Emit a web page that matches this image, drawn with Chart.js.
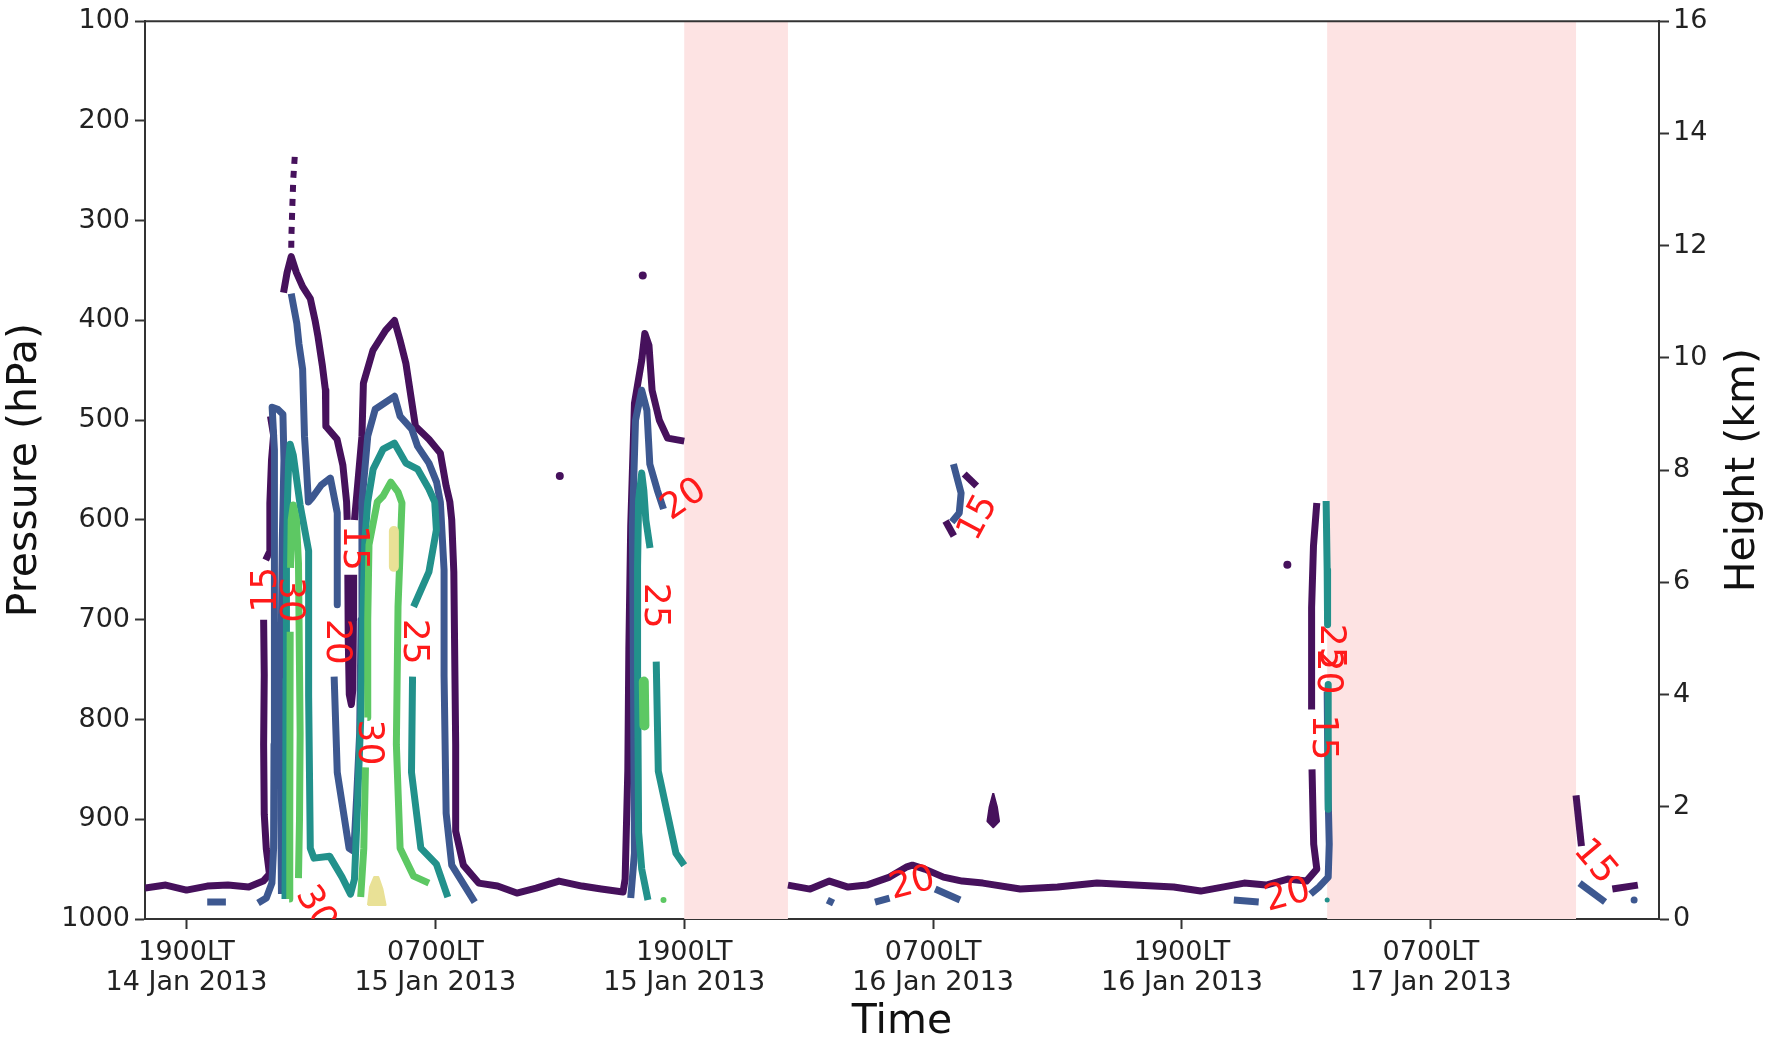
<!DOCTYPE html>
<html>
<head>
<meta charset="utf-8">
<script src="https://cdn.jsdelivr.net/npm/chart.js@4.4.1/dist/chart.umd.min.js"></script>
<style>
  html, body { margin: 0; padding: 0; background: #fff; }
  #wrap { width: 1772px; height: 1045px; position: relative; }
</style>
</head>
<body>
<div id="wrap"><canvas id="chart"></canvas></div>
<script>
// x = hours after 1900LT 14 Jan 2013, y = pressure (hPa)
const tickHours = [0, 12, 24, 36, 48, 60];
const tickTimes = ['1900LT', '0700LT', '1900LT', '0700LT', '1900LT', '0700LT'];
const tickDates = ['14 Jan 2013', '15 Jan 2013', '15 Jan 2013', '16 Jan 2013', '16 Jan 2013', '17 Jan 2013'];

// shaded periods (no data)
const missingSpans = [[24, 29], [55, 67]];

// ---- 15 contour
const p15West = [[-2,969],[-1,966],[0,971],[1,967],[2,966],[3,968],[3.7,962],[4.0,955],[3.85,930],[3.75,895],[3.72,825],[3.75,755],[3.72,700]];
const p15WestUpper = [[3.82,640],[3.98,633],[4.02,583],[4.1,540],[4.2,515],[4.05,496]];
const p15SpikeDots = [[5.22,236],[5.15,258],[5.1,288],[5.06,315],[5.05,330]];
const p15Spike = [[4.68,372],[4.85,352],[5.05,336],[5.3,352],[5.6,366],[5.97,378],[6.2,400],[6.34,416],[6.55,445],[6.7,470],[6.72,506],[7.26,519],[7.54,545],[7.72,582],[7.75,600]];
const p15Valley = [[7.78,655],[7.8,720],[7.85,775],[7.95,785],[8.02,770],[8.05,700],[8.06,655]];
const p15Middle = [[8.1,600],[8.18,582],[8.46,516],[8.53,463],[8.99,430],[9.6,410],[10.03,400],[10.3,420],[10.58,443],[11.04,506],[11.69,519],[12.24,533],[12.52,566],[12.7,582],[12.79,600],[12.89,652],[12.98,825],[12.98,912],[13.35,946],[14.09,964],[15.0,967],[15.93,974],[16.86,969],[17.96,962],[19.07,967],[20.0,970],[21.05,973],[21.15,960],[21.28,851],[21.33,729],[21.42,606],[21.6,483],[21.95,440],[22.1,413],[22.3,425],[22.45,470],[22.8,500],[23.2,518],[24.0,521]];
const p15East = [[29.0,966],[30.07,970],[31.0,962],[31.9,968],[32.8,966],[33.9,958],[34.7,948],[35.0,946],[35.6,950],[36.5,958],[37.4,962],[38.4,964],[40.2,970],[42.0,968],[43.9,964],[45.7,966],[47.6,968],[48.9,972],[49.95,968],[51.0,964],[52.06,966],[53.1,960],[54.0,962],[54.5,950],[54.35,925],[54.27,850]];
const p15EastUpper = [[54.25,790],[54.25,688],[54.34,626],[54.5,583]];
const p15HookA = [[37.5,554],[38.1,566]];
const p15HookB = [[36.6,601],[37.0,616]];
const p15FarA = [[67.0,876],[67.26,927]];
const p15FarB = [[68.75,970],[69.98,966]];
const p15Dots = [[18.0,556],[22.0,355],[53.08,645]];
const p15Drop = [[38.9,874],[39.08,888],[39.18,902],[38.9,908],[38.62,902],[38.72,888],[38.9,874]];

// ---- 20 contour
const b20DashWest = [[1.0,983],[1.9,983]];
const b20WestTower = [[3.45,984],[3.85,979],[4.12,964],[4.2,929],[4.22,825],[4.25,690],[4.22,583],[4.25,530],[4.13,487],[4.4,489],[4.65,494],[4.7,540],[4.62,620],[4.55,760],[4.55,900],[4.58,975]];
const b20Spike = [[5.05,373],[5.32,403],[5.42,423],[5.6,449],[5.69,516],[5.79,549],[5.88,582],[6.05,578],[6.5,565],[6.94,558],[7.27,593],[7.27,685]];
const b20Middle = [[7.12,757],[7.27,853],[7.84,929],[8.07,932],[8.2,880],[8.35,814],[8.42,700],[8.46,582],[8.74,516],[9.1,489],[10.03,476],[10.3,496],[10.86,509],[11.14,526],[11.69,543],[12.06,562],[12.24,582],[12.42,650],[12.42,756],[12.52,894],[12.79,946],[13.9,983]];
const b20Third = [[21.42,979],[21.6,934],[21.55,750],[21.5,606],[21.65,500],[21.95,470],[22.2,490],[22.34,544],[22.7,570],[23.0,589]];
const b20Dash31 = [[30.9,981],[31.2,984]];
const b20DipA = [[33.2,983],[33.9,979]];
const b20DipB = [[36.1,970],[37.3,981]];
const b20Hook = [[36.98,544],[37.35,573],[37.26,593],[36.9,602]];
const b20Dash51 = [[50.5,981],[51.7,983]];
const b20Fourth = [[54.2,975],[54.6,968],[55.05,958],[55.1,925],[55.05,880],[55.0,772]];
const b20Far = [[67.17,964],[68.4,983]];
const b20Dots = [[69.8,981]];

// ---- 25 contour
const t25West = [[4.75,980],[4.78,900],[4.8,760],[4.82,650],[4.87,580],[4.93,540],[5.0,524],[5.15,535],[5.48,585],[5.89,631],[5.89,776],[5.97,929],[6.15,939],[6.9,937],[7.5,958],[7.91,975],[8.1,960],[8.22,900],[8.4,800],[8.5,700],[8.6,620],[8.74,582],[9.0,549],[9.48,529],[10.03,523],[10.58,543],[11.14,549],[11.69,569],[11.97,582],[12.05,610],[11.69,652],[10.95,687]];
const t25MiddleRight = [[10.9,757],[10.85,853],[11.3,929],[12.05,945],[12.6,978]];
const t25Third = [[22.25,981],[21.95,950],[21.8,913],[21.75,750],[21.75,647],[21.8,580],[21.95,553],[22.05,570],[22.15,600],[22.35,628]];
const t25ThirdLower = [[22.65,742],[22.75,852],[23.6,934],[24.0,946]];
const t25Fourth = [[54.95,581],[55.0,650],[55.02,705]];
const t25FourthLower = [[55.05,765],[55.05,890]];
const t25Dots = [[55.0,981]];

// ---- 30 contour
const g30West = [[4.95,980],[4.98,900],[5.0,712]];
const g30WestUpper = [[5.02,648],[5.05,600],[5.15,585],[5.3,600],[5.4,643],[5.48,814],[5.45,900],[5.4,959]];
const g30Middle = [[8.4,978],[8.55,929],[8.63,848]];
const g30MiddleUpper = [[8.72,798],[8.74,700],[8.8,625],[9.2,582],[9.48,576],[9.85,562],[10.2,572],[10.39,583],[10.2,687],[10.12,825],[10.3,929],[10.95,957],[11.69,964]];
const g30Blob = [[22.05,762],[22.08,806]];
const g30Dots = [[23.0,981]];

// ---- 35 contour
const y35Core = [[10.0,611],[10.0,647]];
const y35Base = [[8.75,986],[8.85,968],[9.05,958],[9.25,958],[9.45,970],[9.6,986],[8.75,986]];

// inline contour labels: text, hour, hPa, angle
const contourLabels = [
  ['15', 3.88, 670, -90],
  ['30', 4.95, 680, 90],
  ['15', 8.07, 628, 90],
  ['20', 7.25, 722, 90],
  ['30', 8.75, 823, 90],
  ['25', 10.95, 722, 90],
  ['30', 6.2, 990, 60],
  ['20', 24.0, 580, -35],
  ['25', 22.55, 686, 90],
  ['15', 38.2, 598, -62],
  ['20', 35.0, 965, -15],
  ['20', 53.1, 977, -15],
  ['25', 55.15, 727, 90],
  ['20', 55.0, 752, 90],
  ['15', 54.75, 818, 90],
  ['15', 67.9, 943, 50]
];

const levelColors = { 15: '#46115c', 20: '#3d5890', 25: '#22918b', 30: '#5dc863', 35: '#e9e196' };

function toXY(pts) {
  return pts.map(([x, y]) => ({ x, y }));
}

function line(pts, level, extra) {
  return Object.assign({
    data: toXY(pts),
    showLine: true,
    borderColor: levelColors[level],
    backgroundColor: levelColors[level],
    borderWidth: 7,
    pointRadius: 0,
    tension: 0,
    borderJoinStyle: 'round',
    borderCapStyle: 'butt',
    fill: false
  }, extra || {});
}

function dots(pts, level, r) {
  return {
    data: toXY(pts),
    showLine: false,
    pointRadius: r,
    pointBorderWidth: 0,
    pointBackgroundColor: levelColors[level],
    backgroundColor: levelColors[level]
  };
}

const blob = { borderWidth: 10, borderCapStyle: 'round' };

const datasets = [
  line(y35Core, 35, blob),
  line(y35Base, 35, { borderWidth: 2, fill: 'shape' }),
  line(g30West, 30), line(g30WestUpper, 30), line(g30Middle, 30), line(g30MiddleUpper, 30),
  line(g30Blob, 30, blob), dots(g30Dots, 30, 3),
  line(t25West, 25), line(t25MiddleRight, 25), line(t25Third, 25), line(t25ThirdLower, 25),
  line(t25Fourth, 25), line(t25FourthLower, 25), dots(t25Dots, 25, 2.5),
  line(b20DashWest, 20), line(b20WestTower, 20), line(b20Spike, 20), line(b20Middle, 20),
  line(b20Third, 20), line(b20Dash31, 20), line(b20DipA, 20), line(b20DipB, 20),
  line(b20Hook, 20), line(b20Dash51, 20), line(b20Fourth, 20), line(b20Far, 20), dots(b20Dots, 20, 3.5),
  line(p15West, 15), line(p15WestUpper, 15), line(p15SpikeDots, 15, { borderWidth: 6, borderDash: [7, 7] }),
  line(p15Spike, 15), line(p15Valley, 15), line(p15Middle, 15), line(p15East, 15), line(p15EastUpper, 15),
  line(p15HookA, 15), line(p15HookB, 15), line(p15FarA, 15), line(p15FarB, 15),
  line(p15Drop, 15, { borderWidth: 2, fill: 'shape' }), dots(p15Dots, 15, 4)
];

const spanPlugin = {
  id: 'spans',
  beforeDatasetsDraw(chart) {
    const { ctx, chartArea, scales } = chart;
    ctx.save();
    ctx.fillStyle = '#fde3e3';
    missingSpans.forEach(([a, b]) => {
      const x0 = scales.x.getPixelForValue(a);
      const x1 = scales.x.getPixelForValue(b);
      ctx.fillRect(x0, chartArea.top, x1 - x0, chartArea.bottom - chartArea.top);
    });
    ctx.restore();
  }
};

const labelPlugin = {
  id: 'clabels',
  afterDatasetsDraw(chart) {
    const { ctx, chartArea, scales } = chart;
    ctx.save();
    ctx.beginPath();
    ctx.rect(chartArea.left, chartArea.top, chartArea.right - chartArea.left, chartArea.bottom - chartArea.top);
    ctx.clip();
    ctx.fillStyle = '#ff1a1a';
    ctx.font = '36px "DejaVu Sans"';
    ctx.textAlign = 'center';
    ctx.textBaseline = 'middle';
    contourLabels.forEach(([t, h, p, a]) => {
      ctx.save();
      ctx.translate(scales.x.getPixelForValue(h), scales.y.getPixelForValue(p));
      ctx.rotate(a * Math.PI / 180);
      ctx.fillText(t, 0, 0);
      ctx.restore();
    });
    ctx.restore();
  }
};

const framePlugin = {
  id: 'frame',
  afterDraw(chart) {
    const { ctx, chartArea } = chart;
    ctx.save();
    ctx.strokeStyle = '#333';
    ctx.lineWidth = 2;
    ctx.beginPath();
    ctx.moveTo(chartArea.left - 1, chartArea.top);
    ctx.lineTo(chartArea.right + 1, chartArea.top);
    ctx.stroke();
    ctx.fillStyle = '#111';
    ctx.font = '41px "DejaVu Sans"';
    ctx.textAlign = 'center';
    ctx.textBaseline = 'middle';
    ctx.translate(1743, (chartArea.top + chartArea.bottom) / 2);
    ctx.rotate(-Math.PI / 2);
    ctx.fillText('Height (km)', 0, 0);
    ctx.restore();
  }
};

Chart.defaults.font.family = '"DejaVu Sans"';
Chart.defaults.color = '#222';

const axisGrid = { drawOnChartArea: false, tickLength: 10, tickWidth: 2, tickColor: '#333' };
const axisBorder = { color: '#333', width: 2 };

new Chart(document.getElementById('chart'), {
  type: 'scatter',
  data: { datasets },
  plugins: [spanPlugin, labelPlugin, framePlugin],
  options: {
    responsive: true,
    maintainAspectRatio: false,
    devicePixelRatio: 1,
    animation: false,
    layout: { padding: { top: 16, left: 0, right: 0, bottom: 0 } },
    plugins: { legend: { display: false }, tooltip: { enabled: false } },
    scales: {
      x: {
        type: 'linear', position: 'bottom', min: -2, max: 71,
        afterBuildTicks: axis => { axis.ticks = tickHours.map(v => ({ value: v })); },
        ticks: {
          autoSkip: false, maxRotation: 0, minRotation: 0, padding: 9,
          font: { size: 27, lineHeight: 1.12 }, color: '#222',
          callback: v => {
            const i = tickHours.indexOf(v);
            return i < 0 ? '' : [tickTimes[i], tickDates[i]];
          }
        },
        grid: axisGrid,
        border: axisBorder,
        title: { display: true, text: 'Time', font: { size: 41, lineHeight: 1.1 }, color: '#111', padding: { top: 0, bottom: 0 } },
        afterFit: s => { s.height = 126; }
      },
      y: {
        type: 'linear', position: 'left', reverse: true, min: 100, max: 1000,
        ticks: { stepSize: 100, padding: 5, font: { size: 27 }, color: '#222', callback: v => String(v) },
        grid: axisGrid,
        border: axisBorder,
        title: { display: true, text: 'Pressure (hPa)', font: { size: 41, lineHeight: 1.1 }, color: '#111', padding: { top: 3, bottom: 0 } },
        afterFit: s => { s.width = 145; }
      },
      y2: {
        type: 'linear', position: 'right', min: 0, max: 16,
        ticks: { stepSize: 2, padding: 4, font: { size: 27 }, color: '#222', callback: v => String(v) },
        grid: axisGrid,
        border: axisBorder,
        afterFit: s => { s.width = 113; }
      }
    }
  }
});
</script>
</body>
</html>
